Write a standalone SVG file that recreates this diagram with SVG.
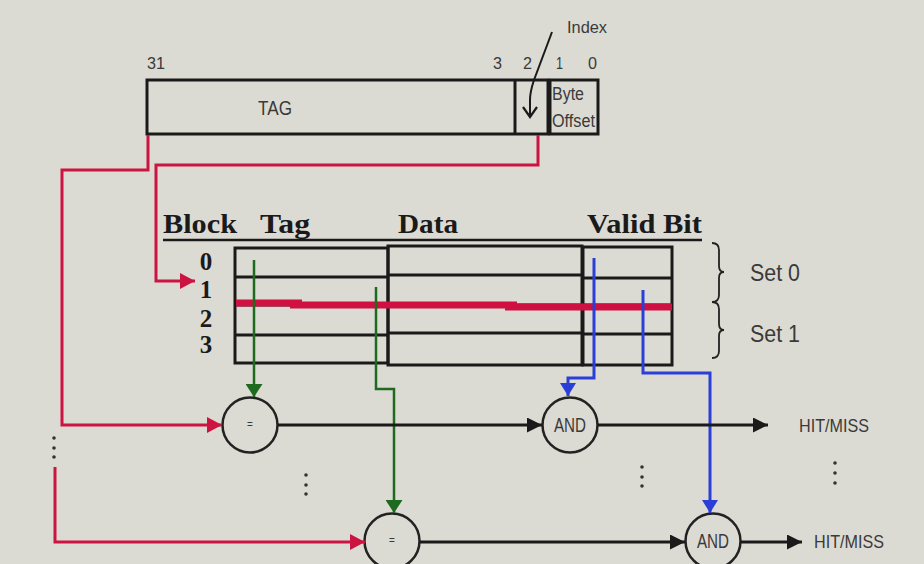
<svg xmlns="http://www.w3.org/2000/svg" width="924" height="564" viewBox="0 0 924 564">
<style>
.bx{fill:none;stroke:#1a1a1a;stroke-width:3}
.sans{font-family:"Liberation Sans",Arial,sans-serif;fill:#3a3a3a}
.hdr{font-family:"Liberation Serif","Times New Roman",serif;font-weight:bold;fill:#1a1a1a;font-size:27px}
.dig{font-family:"Liberation Serif","Times New Roman",serif;font-weight:bold;fill:#1a1a1a;font-size:25px}
.red{fill:none;stroke:#cc1443;stroke-width:3}
.grn{fill:none;stroke:#1e6a1e;stroke-width:2.5}
.blu{fill:none;stroke:#2a3fd8;stroke-width:3}
.blk{fill:none;stroke:#1a1a1a;stroke-width:3}
.gate{fill:#dcdbd3;stroke:#222;stroke-width:2.5}
.dot{fill:#333}
</style>
<defs>
<marker id="aR" markerUnits="userSpaceOnUse" markerWidth="15" markerHeight="16" refX="15" refY="8" orient="auto"><path d="M0,0 L15,8 L0,16 z" fill="#cc1443"/></marker>
<marker id="aG" markerUnits="userSpaceOnUse" markerWidth="13" markerHeight="17" refX="13" refY="8.5" orient="auto"><path d="M0,0 L13,8.5 L0,17 z" fill="#1e6a1e"/></marker>
<marker id="aB" markerUnits="userSpaceOnUse" markerWidth="13" markerHeight="16" refX="13" refY="8" orient="auto"><path d="M0,0 L13,8 L0,16 z" fill="#2a3fd8"/></marker>
<marker id="aK" markerUnits="userSpaceOnUse" markerWidth="15" markerHeight="15" refX="15" refY="7.5" orient="auto"><path d="M0,0 L15,7.5 L0,15 z" fill="#1a1a1a"/></marker>
</defs>
<rect width="924" height="564" fill="#dcdbd3"/>

<g id="address">
<rect class="bx" x="147" y="80" width="401" height="54"/>
<line class="bx" x1="515" y1="80" x2="515" y2="134"/>
<rect class="bx" x="550" y="80" width="48" height="54"/>
<text class="sans" x="147" y="69" font-size="17" textLength="18" lengthAdjust="spacingAndGlyphs">31</text>
<text class="sans" x="493" y="69" font-size="17" textLength="9" lengthAdjust="spacingAndGlyphs">3</text>
<text class="sans" x="523" y="69" font-size="17" textLength="9" lengthAdjust="spacingAndGlyphs">2</text>
<text class="sans" x="556" y="69" font-size="17" textLength="7" lengthAdjust="spacingAndGlyphs">1</text>
<text class="sans" x="588" y="69" font-size="17" textLength="9" lengthAdjust="spacingAndGlyphs">0</text>
<text class="sans" x="258" y="115" font-size="21" textLength="34" lengthAdjust="spacingAndGlyphs">TAG</text>
<text class="sans" x="552" y="100" font-size="18" textLength="32" lengthAdjust="spacingAndGlyphs">Byte</text>
<text class="sans" x="552" y="127" font-size="18" textLength="43" lengthAdjust="spacingAndGlyphs">Offset</text>
<text class="sans" x="567" y="33" font-size="17" textLength="40" lengthAdjust="spacingAndGlyphs">Index</text>
</g>

<g id="cache-table">
<text class="hdr" x="163" y="233" textLength="74" lengthAdjust="spacingAndGlyphs">Block</text>
<text class="hdr" x="260" y="233" textLength="50" lengthAdjust="spacingAndGlyphs">Tag</text>
<text class="hdr" x="398" y="233" textLength="60" lengthAdjust="spacingAndGlyphs">Data</text>
<text class="hdr" x="587" y="233" textLength="115" lengthAdjust="spacingAndGlyphs">Valid Bit</text>
<line x1="163" y1="240" x2="702" y2="240" stroke="#1a1a1a" stroke-width="2.5"/>
<text class="dig" x="206" y="270" text-anchor="middle">0</text>
<text class="dig" x="206" y="298" text-anchor="middle">1</text>
<text class="dig" x="206" y="327" text-anchor="middle">2</text>
<text class="dig" x="206" y="353" text-anchor="middle">3</text>
<rect class="bx" x="235" y="248" width="153" height="115"/>
<line class="bx" x1="235" y1="277" x2="388" y2="277"/>
<line class="bx" x1="235" y1="305" x2="388" y2="305"/>
<line class="bx" x1="235" y1="335" x2="388" y2="335"/>
<rect class="bx" x="388" y="246" width="194" height="119"/>
<line class="bx" x1="388" y1="275" x2="582" y2="275"/>
<line class="bx" x1="388" y1="305" x2="582" y2="305"/>
<line class="bx" x1="388" y1="333" x2="582" y2="333"/>
<rect class="bx" x="583" y="247" width="89" height="118"/>
<line class="bx" x1="583" y1="278" x2="672" y2="278"/>
<line class="bx" x1="583" y1="305" x2="672" y2="305"/>
<line class="bx" x1="583" y1="334" x2="672" y2="334"/>
<line x1="236" y1="303" x2="302" y2="303" stroke="#d01040" stroke-width="7"/>
<line x1="290" y1="305" x2="517" y2="305" stroke="#d01040" stroke-width="7"/>
<line x1="505" y1="307" x2="672" y2="307" stroke="#d01040" stroke-width="7"/>
</g>

<g id="sets">
<path d="M712,243 Q719,243 719,250 L719,266 Q719,272 724,272 Q719,272 719,278 L719,295 Q719,302 712,302" fill="none" stroke="#222" stroke-width="1.8"/>
<path d="M712,302 Q719,302 719,309 L719,324 Q719,330 724,330 Q719,330 719,336 L719,351 Q719,358 712,358" fill="none" stroke="#222" stroke-width="1.8"/>
<text class="sans" x="750" y="281" font-size="24" textLength="50" lengthAdjust="spacingAndGlyphs">Set 0</text>
<text class="sans" x="750" y="342" font-size="24" textLength="50" lengthAdjust="spacingAndGlyphs">Set 1</text>
</g>

<g id="cmp1"><circle class="gate" cx="250" cy="425" r="27.5"/><text class="sans" x="250" y="428" font-size="10" text-anchor="middle">=</text></g>
<g id="cmp2"><circle class="gate" cx="392" cy="541" r="27.5"/><text class="sans" x="392" y="544" font-size="10" text-anchor="middle">=</text></g>
<g id="and1"><circle class="gate" cx="570" cy="425" r="27.5"/><text class="sans" x="570" y="432" font-size="20" text-anchor="middle" textLength="32" lengthAdjust="spacingAndGlyphs">AND</text></g>
<g id="and2"><circle class="gate" cx="713" cy="541" r="27.5"/><text class="sans" x="713" y="548" font-size="20" text-anchor="middle" textLength="32" lengthAdjust="spacingAndGlyphs">AND</text></g>
<g id="out1"><text class="sans" x="799" y="432" font-size="19" textLength="70" lengthAdjust="spacingAndGlyphs">HIT/MISS</text></g>
<g id="out2"><text class="sans" x="814" y="548" font-size="19" textLength="70" lengthAdjust="spacingAndGlyphs">HIT/MISS</text></g>

<g id="ellipses">
<circle class="dot" cx="54" cy="438" r="1.8"/><circle class="dot" cx="54" cy="448" r="1.8"/><circle class="dot" cx="54" cy="457" r="1.8"/>
<circle class="dot" cx="306" cy="475" r="1.8"/><circle class="dot" cx="306" cy="485" r="1.8"/><circle class="dot" cx="306" cy="494" r="1.8"/>
<circle class="dot" cx="642" cy="467" r="1.8"/><circle class="dot" cx="642" cy="477" r="1.8"/><circle class="dot" cx="642" cy="486" r="1.8"/>
<circle class="dot" cx="835" cy="463" r="1.8"/><circle class="dot" cx="835" cy="473" r="1.8"/><circle class="dot" cx="835" cy="483" r="1.8"/>
</g>

<g id="connectors">
<path d="M552,32 L534,80 Q530,92 530,100 L530,117" fill="none" stroke="#1a1a1a" stroke-width="2"/>
<path d="M523,107 L530,117 L537,107" fill="none" stroke="#1a1a1a" stroke-width="2.2"/>
<polyline class="red" points="148,135 148,170 62,170 62,425 222,425" marker-end="url(#aR)"/>
<polyline class="red" points="538,135 538,165 156,165 156,281 195,281" marker-end="url(#aR)"/>
<polyline class="red" points="55,467 55,542 365,542" marker-end="url(#aR)"/>
<polyline class="grn" points="254,260 254,397" marker-end="url(#aG)"/>
<polyline class="grn" points="376,287 376,389 394,389 394,513" marker-end="url(#aG)"/>
<polyline class="blu" points="594,258 594,378 568,378 568,396" marker-end="url(#aB)"/>
<polyline class="blu" points="643,290 643,373 710,373 710,513" marker-end="url(#aB)"/>
<line class="blk" x1="278" y1="425" x2="542" y2="425" marker-end="url(#aK)"/>
<line class="blk" x1="598" y1="425" x2="768" y2="425" marker-end="url(#aK)"/>
<line class="blk" x1="420" y1="542" x2="685" y2="542" marker-end="url(#aK)"/>
<line class="blk" x1="741" y1="542" x2="802" y2="542" marker-end="url(#aK)"/>
</g>
</svg>
